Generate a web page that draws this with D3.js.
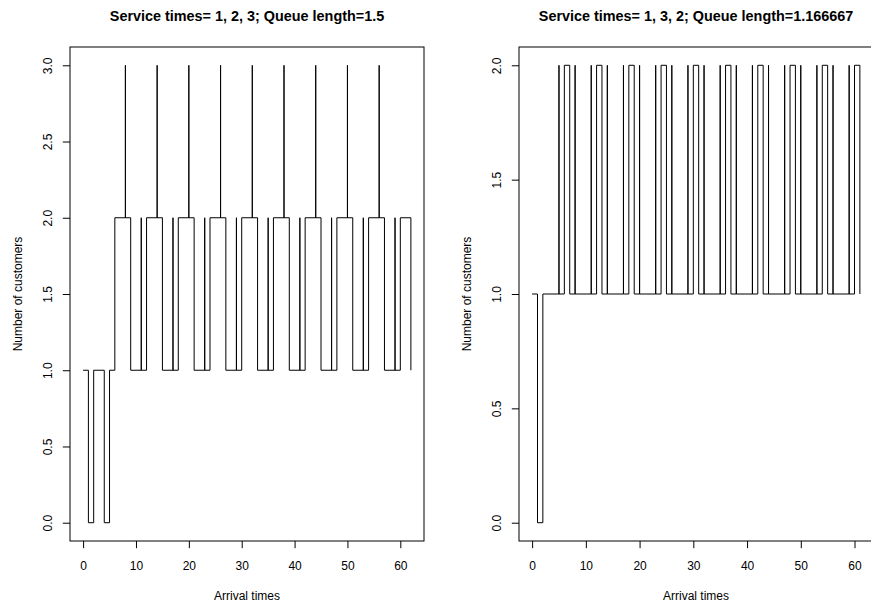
<!DOCTYPE html>
<html>
<head>
<meta charset="utf-8">
<script src="https://cdn.jsdelivr.net/npm/d3@7"></script>
<style>
  html, body { margin: 0; padding: 0; background: #fff; }
  svg { display: block; font-family: "Liberation Sans", Arial, Helvetica, sans-serif; }
</style>
</head>
<body>
<svg id="chart" width="871" height="606"></svg>
<script>
// ---- Data ----
const leftTitle = "Service times= 1, 2, 3; Queue length=1.5";
const rightTitle = "Service times= 1, 3, 2; Queue length=1.166667";
const xLabel = "Arrival times";
const yLabel = "Number of customers";

const leftTimes = [0,1,2,4,5,
  6,8,8,9,11,11,
  12,14,14,15,17,17,
  18,20,20,21,23,23,
  24,26,26,27,29,29,
  30,32,32,33,35,35,
  36,38,38,39,41,41,
  42,44,44,45,47,47,
  48,50,50,51,53,53,
  54,56,56,57,59,59,
  60,62];
const leftCounts = [1,0,1,0,1,
  2,3,2,1,2,1,
  2,3,2,1,2,1,
  2,3,2,1,2,1,
  2,3,2,1,2,1,
  2,3,2,1,2,1,
  2,3,2,1,2,1,
  2,3,2,1,2,1,
  2,3,2,1,2,1,
  2,3,2,1,2,1,
  2,1];

const rightTimes = [0,1,2,5,5,
  6,7,8,8,11,11,
  12,13,14,14,17,17,
  18,19,20,20,23,23,
  24,25,26,26,29,29,
  30,31,32,32,35,35,
  36,37,38,38,41,41,
  42,43,44,44,47,47,
  48,49,50,50,53,53,
  54,55,56,56,59,59,
  60,61];
const rightCounts = [1,0,1,2,1,
  2,1,2,1,2,1,
  2,1,2,1,2,1,
  2,1,2,1,2,1,
  2,1,2,1,2,1,
  2,1,2,1,2,1,
  2,1,2,1,2,1,
  2,1,2,1,2,1,
  2,1,2,1,2,1,
  2,1,2,1,2,1,
  2,1];

const xTicks = [0,10,20,30,40,50,60];
const leftYTicks = [0,0.5,1,1.5,2,2.5,3];
const rightYTicks = [0,0.5,1,1.5,2];

// ---- Drawing ----
const svg = d3.select("#chart");
svg.append("rect").attr("width",871).attr("height",606).attr("fill","#fff");

function panel(opts) {
  const { x0, x1, y0, y1, times, counts, yTicks, title } = opts;
  const xMax = d3.max(times), yMax = d3.max(counts);
  const xPad = 0.04 * xMax, yPad = 0.04 * yMax;
  const x = d3.scaleLinear().domain([-xPad, xMax + xPad]).range([x0, x1]);
  const y = d3.scaleLinear().domain([-yPad, yMax + yPad]).range([y1, y0]);
  const g = svg.append("g");

  const pts = times.map((t, i) => [t, counts[i]]);
  const line = d3.line().x(d => x(d[0])).y(d => y(d[1])).curve(d3.curveStepAfter);
  g.append("path").datum(pts).attr("d", line)
    .attr("fill","none").attr("stroke","#000").attr("stroke-width",1);

  // frame
  g.append("rect").attr("x", x0).attr("y", y0)
    .attr("width", x1 - x0).attr("height", y1 - y0)
    .attr("fill","none").attr("stroke","#000").attr("stroke-width",1);

  // x axis
  const xa = g.append("g").attr("transform", `translate(0,${y1})`)
    .call(d3.axisBottom(x).tickValues(xTicks).tickFormat(d3.format("d"))
      .tickSize(7.2).tickPadding(13.3));
  xa.select(".domain").remove();
  xa.selectAll("text").attr("font-size", 12).attr("font-family", null).attr("fill","#000");
  xa.selectAll("line").attr("stroke","#000");

  // y axis
  const ya = g.append("g").attr("transform", `translate(${x0},0)`)
    .call(d3.axisLeft(y).tickValues(yTicks).tickFormat(d3.format(".1f")).tickSize(7.2));
  ya.select(".domain").remove();
  ya.selectAll("line").attr("stroke","#000");
  ya.selectAll("text").attr("font-size", 12).attr("font-family", null).attr("fill","#000")
    .attr("x", 0).attr("dy", null).attr("text-anchor","middle")
    .attr("transform", "translate(-17.7,0) rotate(-90)");

  // title
  g.append("text").attr("x", (x0 + x1) / 2).attr("y", 21)
    .attr("text-anchor","middle").attr("font-weight","bold").attr("font-size", 14.4)
    .text(title);
  // x label
  g.append("text").attr("x", (x0 + x1) / 2).attr("y", 600)
    .attr("text-anchor","middle").attr("font-size", 12).text(xLabel);
  // y label
  g.append("text").attr("transform", `translate(${x0 - 48.5},${(y0 + y1) / 2}) rotate(-90)`)
    .attr("text-anchor","middle").attr("font-size", 12).text(yLabel);
}

panel({ x0: 70, x1: 424, y0: 47, y1: 541, times: leftTimes, counts: leftCounts,
        yTicks: leftYTicks, title: leftTitle });
panel({ x0: 519, x1: 873, y0: 47, y1: 541, times: rightTimes, counts: rightCounts,
        yTicks: rightYTicks, title: rightTitle });
</script>
</body>
</html>
